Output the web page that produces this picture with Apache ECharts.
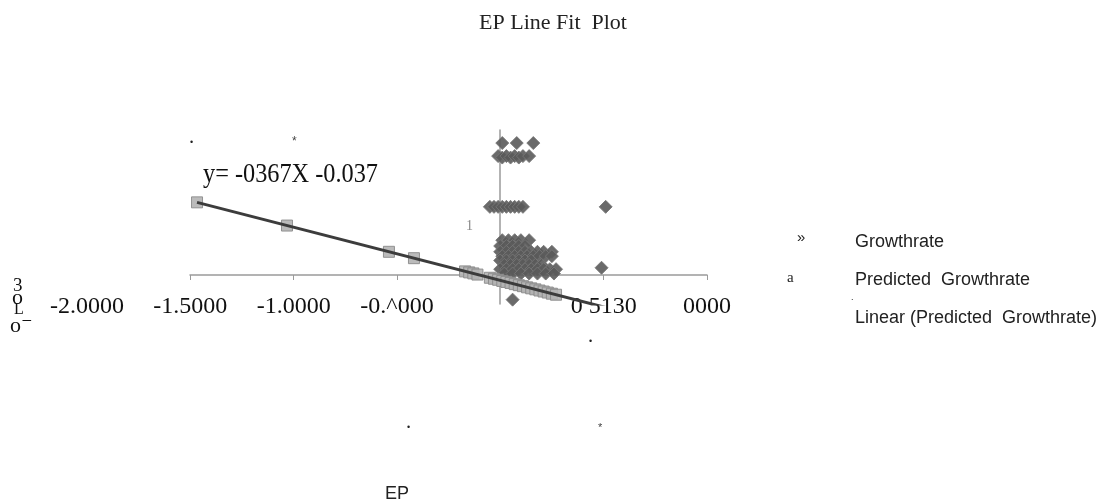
<!DOCTYPE html>
<html>
<head>
<meta charset="utf-8">
<script src="https://cdn.jsdelivr.net/npm/echarts@6/dist/echarts.min.js"></script>
<style>html,body{margin:0;padding:0;background:#fff}#c{width:1106px;height:504px}</style>
</head>
<body>
<div id="c"></div>
<script>
// ---- data ----
const xTickLabels = ['-2.0000', '-1.5000', '-1.0000', '-0.^000', '', '0 5130', '0000'];
const seriesNames = ['Growthrate', 'Predicted  Growthrate', 'Linear (Predicted  Growthrate)'];

const growthX = [
  0.01, 0.08, 0.16,
  -0.01, 0.01, 0.03, 0.05, 0.07, 0.09, 0.11, 0.14,
  -0.05, -0.03, -0.01, 0.01, 0.03, 0.05, 0.07, 0.09, 0.11, 0.51,
  0.01, 0.04, 0.07, 0.10, 0.14,
  0.00, 0.03, 0.06, 0.09, 0.12,
  0.00, 0.03, 0.06, 0.09, 0.12, 0.15, 0.18, 0.21, 0.25,
  0.01, 0.04, 0.07, 0.10, 0.13, 0.16, 0.19, 0.22, 0.25,
  0.00, 0.03, 0.06, 0.09, 0.12, 0.15,
  0.02, 0.05, 0.08, 0.11, 0.14, 0.17, 0.20,
  0.00, 0.03, 0.06, 0.09, 0.12, 0.15, 0.18, 0.21, 0.24, 0.27,
  0.02, 0.06, 0.10, 0.14, 0.18, 0.22, 0.26,
  0.49, 0.06
];
const growthY = [
  0.91, 0.91, 0.91,
  0.82, 0.81, 0.82, 0.81, 0.82, 0.81, 0.82, 0.82,
  0.47, 0.47, 0.47, 0.47, 0.47, 0.47, 0.47, 0.47, 0.47, 0.47,
  0.24, 0.24, 0.24, 0.24, 0.24,
  0.20, 0.20, 0.20, 0.20, 0.20,
  0.16, 0.16, 0.16, 0.16, 0.16, 0.16, 0.16, 0.16, 0.16,
  0.13, 0.13, 0.13, 0.13, 0.13, 0.13, 0.13, 0.13, 0.13,
  0.10, 0.10, 0.10, 0.10, 0.10, 0.10,
  0.07, 0.07, 0.07, 0.07, 0.07, 0.07, 0.07,
  0.04, 0.04, 0.04, 0.04, 0.04, 0.04, 0.04, 0.04, 0.04, 0.04,
  0.01, 0.01, 0.01, 0.01, 0.01, 0.01, 0.01,
  0.05, -0.17
];

const predX = [-1.466, -1.031, -0.538, -0.417, -0.17, -0.15, -0.13, -0.11, -0.05, -0.03, -0.01,
  0.01, 0.03, 0.05, 0.07, 0.09, 0.11, 0.13, 0.15, 0.17, 0.19, 0.21, 0.23, 0.25, 0.27, 0.49, 0.51];
const predY = [0.501, 0.341, 0.160, 0.116, 0.025, 0.018, 0.011, 0.003, -0.019, -0.026, -0.033,
  -0.041, -0.048, -0.055, -0.063, -0.070, -0.077, -0.085, -0.092, -0.099, -0.107, -0.114, -0.121, -0.129, -0.136, -0.217, -0.224];

const trendX = [-1.466, 0.51];
const trendY = [0.501, -0.224];

const equationText = 'y= -0367X -0.037';
const titleText = 'EP Line Fit  Plot';
const xName = 'EP';

// ---- chart ----
const zip = (a, b) => a.map((v, i) => [v, b[i]]);
const chart = echarts.init(document.getElementById('c'), null, { renderer: 'canvas' });
const serif = '"Liberation Serif", "DejaVu Serif", serif';
const sans = '"Liberation Sans", Arial, sans-serif';
const axisGray = '#9a9a9a';

chart.setOption({
  animation: false,
  backgroundColor: '#ffffff',
  title: {
    text: titleText, left: 'center', top: 7,
    textStyle: { fontFamily: serif, fontSize: 22, fontWeight: 'normal', color: '#222' }
  },
  legend: {
    orient: 'vertical', left: 844, top: 228, itemGap: 20,
    itemWidth: 0, itemHeight: 0, icon: 'rect',
    data: seriesNames,
    textStyle: { fontFamily: sans, fontSize: 18, color: '#222' }
  },
  grid: [
    { left: 190, right: 399, top: 130, height: 174 },
    { left: 87, right: 399, top: 130, height: 160 }
  ],
  xAxis: [
    {
      type: 'value', gridIndex: 0, min: -1.5, max: 1, interval: 0.5,
      axisLine: { show: true, onZero: true, lineStyle: { color: axisGray, width: 1.5 } },
      axisTick: { show: true, length: 5, lineStyle: { color: axisGray } },
      axisLabel: { show: false }, splitLine: { show: false }
    },
    {
      type: 'value', gridIndex: 1, min: -2, max: 1, interval: 0.5,
      axisLine: { show: false }, axisTick: { show: false }, splitLine: { show: false },
      axisLabel: {
        show: true, margin: 5, fontFamily: serif, fontSize: 24, color: '#111',
        formatter: v => xTickLabels[Math.round((v + 2) / 0.5)] || ''
      },
      name: xName, nameLocation: 'middle', nameGap: 195,
      nameTextStyle: { fontFamily: sans, fontSize: 18, color: '#222' }
    }
  ],
  yAxis: [
    {
      type: 'value', gridIndex: 0, min: -0.2, max: 1.0,
      axisLine: { show: true, onZero: true, lineStyle: { color: axisGray, width: 1.5 } },
      axisTick: { show: false }, axisLabel: { show: false }, splitLine: { show: false }
    },
    {
      type: 'value', gridIndex: 1, min: -0.2, max: 1.0, show: false
    }
  ],
  series: [
    {
      name: seriesNames[0], type: 'scatter', xAxisIndex: 0, yAxisIndex: 0,
      symbol: 'diamond', symbolSize: 13, z: 3,
      itemStyle: { color: '#5a5a5a', borderColor: '#777', borderWidth: 1, opacity: 0.9 },
      data: zip(growthX, growthY)
    },
    {
      name: seriesNames[1], type: 'scatter', xAxisIndex: 0, yAxisIndex: 0,
      symbol: 'rect', symbolSize: 11, z: 4,
      itemStyle: { color: '#b4b4b4', borderColor: '#8a8a8a', borderWidth: 1, opacity: 0.9 },
      data: zip(predX, predY)
    },
    {
      name: seriesNames[2], type: 'line', xAxisIndex: 0, yAxisIndex: 0,
      symbol: 'none', z: 5,
      lineStyle: { color: '#3c3c3c', width: 3 },
      itemStyle: { color: '#3c3c3c' },
      data: zip(trendX, trendY)
    }
  ],
  graphic: [
    { type: 'text', x: 203, y: 175, scaleX: 0.9, originX: 0, originY: 0,
      style: { text: equationText, font: '27px ' + serif, fill: '#111', textVerticalAlign: 'middle' } },
    { type: 'text', x: 466, y: 226, style: { text: '1', font: '14px ' + serif, fill: '#888', textVerticalAlign: 'middle' } },
    { type: 'text', x: 190, y: 143, style: { text: '•', font: '9px ' + sans, fill: '#222', textVerticalAlign: 'middle' } },
    { type: 'text', x: 292, y: 142, style: { text: '*', font: '12px ' + sans, fill: '#444', textVerticalAlign: 'middle' } },
    { type: 'text', x: 589, y: 342, style: { text: '•', font: '9px ' + sans, fill: '#222', textVerticalAlign: 'middle' } },
    { type: 'text', x: 407, y: 428, style: { text: '•', font: '9px ' + sans, fill: '#222', textVerticalAlign: 'middle' } },
    { type: 'text', x: 598, y: 428, style: { text: '*', font: '11px ' + sans, fill: '#444', textVerticalAlign: 'middle' } },
    { type: 'text', x: 851, y: 298, style: { text: '.', font: '9px ' + sans, fill: '#222', textVerticalAlign: 'middle' } },
    { type: 'text', x: 797, y: 238, style: { text: '»', font: '15px ' + sans, fill: '#222', textVerticalAlign: 'middle' } },
    { type: 'text', x: 787, y: 278, style: { text: 'a', font: '15px ' + serif, fill: '#222', textVerticalAlign: 'middle' } },
    { type: 'text', x: 13, y: 286, style: { text: '3', font: '19px ' + serif, fill: '#111', textVerticalAlign: 'middle' } },
    { type: 'text', x: 12, y: 298, style: { text: 'ο', font: '22px ' + serif, fill: '#111', textVerticalAlign: 'middle' } },
    { type: 'text', x: 14, y: 310, style: { text: 'L', font: '16px ' + serif, fill: '#111', textVerticalAlign: 'middle' } },
    { type: 'text', x: 10, y: 326, style: { text: 'o⁻', font: '22px ' + serif, fill: '#111', textVerticalAlign: 'middle' } }
  ]
});
</script>
</body>
</html>
